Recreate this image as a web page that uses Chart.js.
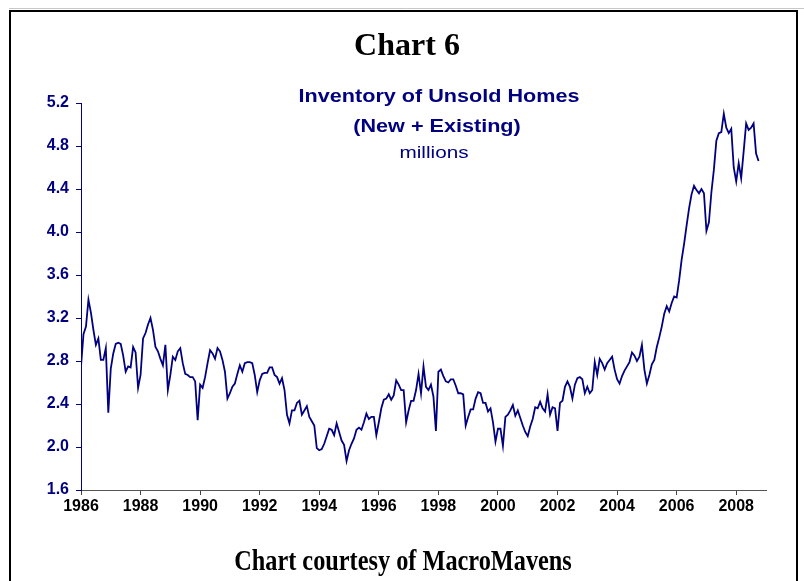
<!DOCTYPE html>
<html>
<head>
    <meta charset="UTF-8">
    <title>Chart 6 - Inventory of Unsold Homes</title>
    <script src="https://cdn.jsdelivr.net/npm/chart.js@4/dist/chart.umd.min.js"></script>
    <style>
        html, body { margin: 0; padding: 0; background: #fff; }
        #wrap { width: 804px; height: 581px; position: relative; }
        canvas { display: block; }
    </style>
</head>
<body>
<div id="wrap">
    <canvas id="chart" width="804" height="581"></canvas>
</div>

<script>
    // monthly data starts January 1986
    const startYear = 1986;
    const xTickYears = [1986, 1988, 1990, 1992, 1994, 1996, 1998, 2000, 2002, 2004, 2006, 2008];
    const yTickValues = [1.6, 2.0, 2.4, 2.8, 3.2, 3.6, 4.0, 4.4, 4.8, 5.2];

    // inventory of unsold homes, new + existing, millions (one row per year)
    const inventory = [
        2.75, 3.05, 3.12, 3.37, 3.25, 3.09, 2.95, 3.01, 2.81, 2.81, 2.92, 2.32,  // 1986
        2.73, 2.87, 2.96, 2.97, 2.96, 2.85, 2.70, 2.75, 2.74, 2.93, 2.88, 2.55,  // 1987
        2.67, 3.01, 3.06, 3.14, 3.20, 3.09, 2.93, 2.89, 2.82, 2.76, 2.95, 2.53,  // 1988
        2.67, 2.84, 2.81, 2.89, 2.92, 2.78, 2.68, 2.67, 2.65, 2.65, 2.61, 2.25,  // 1989
        2.58, 2.55, 2.65, 2.78, 2.90, 2.87, 2.82, 2.92, 2.89, 2.81, 2.70, 2.45,  // 1990
        2.50, 2.56, 2.59, 2.68, 2.76, 2.70, 2.78, 2.79, 2.79, 2.78, 2.67, 2.51,  // 1991
        2.62, 2.68, 2.69, 2.69, 2.74, 2.74, 2.67, 2.65, 2.59, 2.64, 2.53, 2.30,  // 1992
        2.22, 2.34, 2.34, 2.41, 2.43, 2.30, 2.34, 2.38, 2.28, 2.24, 2.20, 1.99,  // 1993
        1.97, 1.98, 2.03, 2.10, 2.17, 2.16, 2.11, 2.22, 2.14, 2.06, 2.02, 1.87,  // 1994
        1.97, 2.03, 2.08, 2.16, 2.18, 2.16, 2.23, 2.31, 2.26, 2.28, 2.28, 2.11,  // 1995
        2.23, 2.36, 2.44, 2.45, 2.49, 2.44, 2.48, 2.62, 2.58, 2.53, 2.53, 2.23,  // 1996
        2.34, 2.43, 2.43, 2.53, 2.68, 2.50, 2.75, 2.56, 2.53, 2.58, 2.47, 2.15,  // 1997
        2.70, 2.72, 2.66, 2.61, 2.60, 2.63, 2.63, 2.57, 2.50, 2.50, 2.49, 2.20,  // 1998
        2.28, 2.35, 2.35, 2.45, 2.51, 2.50, 2.41, 2.41, 2.33, 2.36, 2.23, 2.05,  // 1999
        2.17, 2.17, 2.01, 2.28, 2.30, 2.34, 2.39, 2.29, 2.34, 2.27, 2.20, 2.14,  // 2000
        2.10, 2.19, 2.26, 2.37, 2.36, 2.42, 2.36, 2.33, 2.49, 2.30, 2.37, 2.36,  // 2001
        2.15, 2.41, 2.43, 2.56, 2.61, 2.56, 2.45, 2.58, 2.64, 2.65, 2.63, 2.50,  // 2002
        2.56, 2.50, 2.53, 2.79, 2.67, 2.82, 2.78, 2.72, 2.78, 2.81, 2.84, 2.72,  // 2003
        2.63, 2.59, 2.66, 2.71, 2.75, 2.79, 2.88, 2.85, 2.80, 2.84, 2.95, 2.72,  // 2004
        2.59, 2.67, 2.77, 2.81, 2.93, 3.02, 3.12, 3.24, 3.31, 3.26, 3.34, 3.40,  // 2005
        3.39, 3.55, 3.74, 3.89, 4.06, 4.22, 4.35, 4.43, 4.39, 4.36, 4.40, 4.36,  // 2006
        4.01, 4.09, 4.37, 4.58, 4.85, 4.92, 4.93, 5.10, 4.97, 4.92, 4.96, 4.60,  // 2007
        4.47, 4.64, 4.50, 4.75, 5.01, 4.95, 4.97, 5.01, 4.73, 4.66               // 2008
    ];

    const titleText = 'Chart 6';
    const seriesTitle = ['Inventory of Unsold Homes', '(New + Existing)'];
    const unitsText = 'millions';
    const footerText = 'Chart courtesy of MacroMavens';

    const navy = '#000080';
    const sans = '"Liberation Sans", Arial, sans-serif';
    const serif = '"Liberation Serif", "Times New Roman", serif';

    const points = inventory.map((v, i) => ({x: startYear + i / 12, y: v}));

    // text drawn with a horizontal stretch (the source image is not square-pixel)
    function stretchedText(ctx, text, x, y, sx) {
        ctx.save();
        ctx.translate(x, y);
        ctx.scale(sx, 1);
        ctx.fillText(text, 0, 0);
        ctx.restore();
    }

    // frame + all the text that sits around / inside the plot
    const decorations = {
        id: 'decorations',
        beforeDraw(chart) {
            const ctx = chart.ctx;
            ctx.save();
            ctx.fillStyle = '#fff';
            ctx.fillRect(0, 0, chart.width, chart.height);
            ctx.strokeStyle = '#c8c8c8';
            ctx.lineWidth = 1;
            ctx.beginPath();
            ctx.moveTo(9, 8.5);
            ctx.lineTo(chart.width, 8.5);
            ctx.stroke();
            ctx.strokeStyle = '#000';
            ctx.lineWidth = 2;
            ctx.strokeRect(10, 11, 787, 590);
            ctx.restore();
        },
        afterDraw(chart) {
            const ctx = chart.ctx;
            ctx.save();
            ctx.textAlign = 'center';

            ctx.fillStyle = '#000';
            ctx.textBaseline = 'alphabetic';
            ctx.font = 'bold 32px ' + serif;
            stretchedText(ctx, titleText, 407, 55, 1.0);
            ctx.font = 'bold 30px ' + serif;
            stretchedText(ctx, footerText, 403, 570, 0.81);

            ctx.fillStyle = navy;
            ctx.textBaseline = 'middle';
            ctx.font = 'bold 18px ' + sans;
            stretchedText(ctx, seriesTitle[0], 439, 97, 1.2);
            stretchedText(ctx, seriesTitle[1], 437, 127, 1.2);
            ctx.font = '17px ' + sans;
            stretchedText(ctx, unitsText, 434, 153, 1.22);
            ctx.restore();
        }
    };

    new Chart(document.getElementById('chart'), {
        type: 'line',
        data: {
            datasets: [{
                label: 'Inventory of Unsold Homes',
                data: points,
                borderColor: navy,
                borderWidth: 1.8,
                pointRadius: 0,
                tension: 0,
                fill: false
            }]
        },
        options: {
            responsive: false,
            animation: false,
            devicePixelRatio: 1,
            layout: {
                padding: {left: 10, right: 38, top: 103, bottom: 61}
            },
            plugins: {
                legend: {display: false},
                tooltip: {enabled: false},
                title: {display: false}
            },
            scales: {
                x: {
                    type: 'linear',
                    min: 1986,
                    max: 2009,
                    afterBuildTicks: (s) => {
                        s.ticks = xTickYears.map(v => ({value: v}));
                    },
                    afterFit: (s) => {
                        s.height = 30;
                    },
                    ticks: {
                        color: '#000',
                        font: {family: sans, size: 16, weight: 'bold'},
                        padding: 2,
                        maxRotation: 0,
                        autoSkip: false,
                        callback: (v) => String(v)
                    },
                    grid: {drawOnChartArea: false, drawTicks: true, tickLength: 5, color: '#444'},
                    border: {color: '#555', width: 1}
                },
                y: {
                    min: 1.6,
                    max: 5.2,
                    afterBuildTicks: (s) => {
                        s.ticks = yTickValues.map(v => ({value: v}));
                    },
                    afterFit: (s) => {
                        s.width = 71;
                    },
                    ticks: {
                        color: navy,
                        font: {family: sans, size: 16, weight: 'bold'},
                        padding: 7,
                        callback: (v) => v.toFixed(1)
                    },
                    grid: {drawOnChartArea: false, drawTicks: true, tickLength: 5, color: navy},
                    border: {color: navy, width: 1}
                }
            }
        },
        plugins: [decorations]
    });
</script>
</body>
</html>
